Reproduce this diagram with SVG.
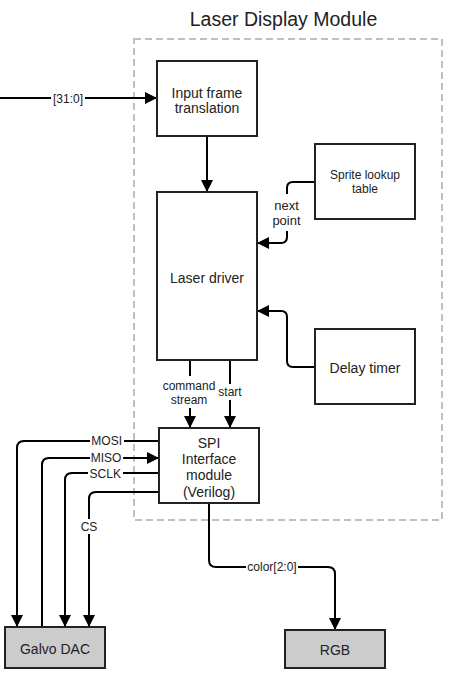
<svg xmlns="http://www.w3.org/2000/svg" width="459" height="684" viewBox="0 0 459 684">
<defs>
<marker id="ah" markerUnits="userSpaceOnUse" markerWidth="13" markerHeight="13" refX="12" refY="6" orient="auto">
<path d="M0,0 L12,6 L0,12 z" fill="#000"/>
</marker>
<style>
.box{fill:#fff;stroke:#222;stroke-width:2}
.gbox{fill:#cccccc;stroke:#222;stroke-width:2}
.wire{fill:none;stroke:#000;stroke-width:2}
.arr{marker-end:url(#ah)}
text{font-family:"Liberation Sans",Arial,sans-serif;fill:#222;text-anchor:middle}
.t14{font-size:14px}
.t12{font-size:12px}
.lbl{font-size:12px}
.lbl13{font-size:13px}
.bg{fill:#fff;stroke:none}
</style>
</defs>
<rect width="459" height="684" fill="#fff"/>
<g id="container">
<rect x="134" y="39" width="308" height="481" fill="none" stroke="#c0c0c0" stroke-width="2" stroke-dasharray="7 4"/>
<text x="283.5" y="26" style="font-size:19.5px">Laser Display Module</text>
</g>
<g id="connectors">
<path class="wire arr" d="M0,98 H157"/>
<rect class="bg" x="51" y="91" width="34" height="14"/>
<text class="lbl" x="68" y="102.5">[31:0]</text>
<path class="wire arr" d="M207,136 V192"/>
<path class="wire arr" d="M315,182 H293 Q287,182 287,188 V237 Q287,243 281,243 H257"/>
<rect class="bg" x="271" y="194" width="32" height="37"/>
<text class="lbl13" x="286.5" y="210">next</text>
<text class="lbl13" x="286.5" y="224.5">point</text>
<path class="wire arr" d="M315,367 H293 Q287,367 287,361 V317 Q287,311 281,311 H257"/>
<path class="wire arr" d="M190,360 V428"/>
<rect class="bg" x="161" y="376" width="58" height="32"/>
<text class="lbl" x="189" y="390">command</text>
<text class="lbl" x="189" y="403.5">stream</text>
<path class="wire arr" d="M230,360 V428"/>
<rect class="bg" x="218" y="384" width="25" height="16"/>
<text class="lbl" x="230" y="396">start</text>
<path class="wire arr" d="M159,441 H24 Q17,441 17,448 V627"/>
<rect class="bg" x="90" y="434" width="34" height="14"/>
<text class="lbl" x="106.7" y="445.3">MOSI</text>
<path class="wire arr" d="M42,627 V465 Q42,458 49,458 H159"/>
<rect class="bg" x="90" y="451" width="33" height="14"/>
<text class="lbl" x="106" y="462.3">MISO</text>
<path class="wire arr" d="M159,473 H72 Q65,473 65,480 V627"/>
<rect class="bg" x="88" y="466" width="35" height="14"/>
<text class="lbl" x="105.3" y="477.5">SCLK</text>
<path class="wire arr" d="M159,492 H96 Q89,492 89,499 V627"/>
<rect class="bg" x="78" y="519" width="22" height="15"/>
<text class="lbl" x="89" y="531">CS</text>
<path class="wire arr" d="M209,503 V560 Q209,567 216,567 H328 Q335,567 335,574 V630"/>
<rect class="bg" x="246" y="560" width="52" height="14"/>
<text class="lbl" x="272" y="571">color[2:0]</text>
</g>
<g id="input-frame">
<rect class="box" x="157" y="61" width="100" height="75"/>
<text class="t14" x="207" y="97.5">Input frame</text>
<text class="t14" x="207" y="112.5">translation</text>
</g>
<g id="laser-driver">
<rect class="box" x="157" y="192" width="100" height="168"/>
<text class="t14" x="207" y="283">Laser driver</text>
</g>
<g id="sprite-lookup">
<rect class="box" x="315" y="144" width="100" height="75"/>
<text class="t12" x="365" y="179">Sprite lookup</text>
<text class="t12" x="365" y="193">table</text>
</g>
<g id="delay-timer">
<rect class="box" x="315" y="329" width="100" height="75"/>
<text class="t14" x="365" y="372.5">Delay timer</text>
</g>
<g id="spi">
<rect class="box" x="159" y="428" width="100" height="75"/>
<text class="t14" x="209" y="448">SPI</text>
<text class="t14" x="209" y="464">Interface</text>
<text class="t14" x="209" y="480">module</text>
<text class="t14" x="209" y="496.5">(Verilog)</text>
</g>
<g id="galvo-dac">
<rect class="gbox" x="5" y="627" width="100" height="41"/>
<text class="t14" x="55" y="654">Galvo DAC</text>
</g>
<g id="rgb">
<rect class="gbox" x="285" y="630" width="100" height="38"/>
<text class="t14" x="335" y="655">RGB</text>
</g>
</svg>
